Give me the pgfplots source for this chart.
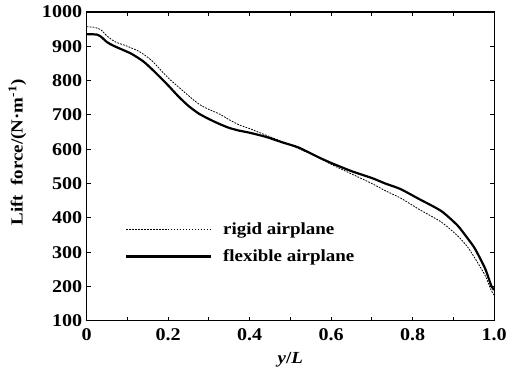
\documentclass[border=0pt]{standalone}
\usepackage{fontspec}
\setmainfont{Liberation Serif}[FakeStretch=1.12]
\usepackage{pgfplots}
\pgfplotsset{compat=1.18}
\begin{document}
\begin{tikzpicture}
\begin{axis}[
  at={(0pt,0pt)}, anchor=south west,
  scale only axis, width=409pt, height=310pt,
  xmin=0, xmax=1, ymin=100, ymax=1000,
  xtick={0,0.1,...,1.0},
  xticklabels={0,,0.2,,0.4,,0.6,,0.8,,1.0},
  ytick={100,200,...,1000},
  /pgf/number format/1000 sep={},
  tick align=inside, major tick length=4pt,
  axis line style={line width=1.1pt},
  every tick/.style={line width=0.9pt, black},
  /pgf/number format/assume math mode=true,
  tick label style={font=\fontsize{18}{20}\selectfont\bfseries},
  xticklabel style={yshift=-4pt},
  yticklabel style={xshift=-1pt},
  xlabel={\textbf{\textit{y}/\textit{L}}},
  ylabel={\textbf{Lift\ \ force/(N·m\textsuperscript{-1})}},
  label style={font=\fontsize{17}{19}\selectfont\bfseries},
  xlabel style={at={(axis description cs:0.5,-0.125)}, anchor=center},
  ylabel style={at={(axis description cs:-0.17,0.545)}, anchor=center},
  legend cell align=left,
  legend style={draw=none, fill=none, at={(axis description cs:0.093,0.325)}, anchor=north west,
    font=\fontsize{17}{19}\selectfont\bfseries, row sep=10pt, inner sep=0pt,
    /tikz/every even column/.append style={column sep=0pt}},
  legend image code/.code={\draw[#1] (0pt,0pt) -- (85pt,0pt);},
]
\addplot[black, line width=0.8pt, dash pattern=on 1.8pt off 1.2pt, smooth, tension=0.4] coordinates {
(0,957) (0.02,955) (0.035,948) (0.05,930) (0.07,913) (0.1,900) (0.13,884) (0.16,858)
(0.2,808) (0.25,756) (0.276,731) (0.3,716) (0.325,703) (0.35,686) (0.374,671) (0.4,660)
(0.44,641) (0.48,622) (0.52,602) (0.57,575) (0.6,556) (0.65,528) (0.7,500) (0.733,479)
(0.77,458) (0.814,426) (0.87,388) (0.91,348) (0.935,315) (0.953,282) (0.978,232) (0.993,188) (1.0,175)
};
\addlegendentry{\ \ rigid airplane}
\addplot[black, line width=2.2pt, smooth, tension=0.4] coordinates {
(0,935) (0.01,935) (0.025,934) (0.035,928) (0.05,912) (0.065,902) (0.08,894) (0.11,878)
(0.14,855) (0.17,822) (0.2,786) (0.225,754) (0.25,726) (0.275,704) (0.3,688) (0.325,674)
(0.35,662) (0.375,654) (0.4,648) (0.44,636) (0.48,620) (0.52,605) (0.57,576) (0.6,560)
(0.65,536) (0.7,516) (0.733,500) (0.77,484) (0.814,456) (0.87,420) (0.91,378) (0.935,340)
(0.953,310) (0.978,252) (0.993,202) (1.0,190)
};
\addlegendentry{\ \ flexible airplane}
\end{axis}
\useasboundingbox (-87pt,-50pt) rectangle (423pt,322pt);
\end{tikzpicture}
\end{document}
